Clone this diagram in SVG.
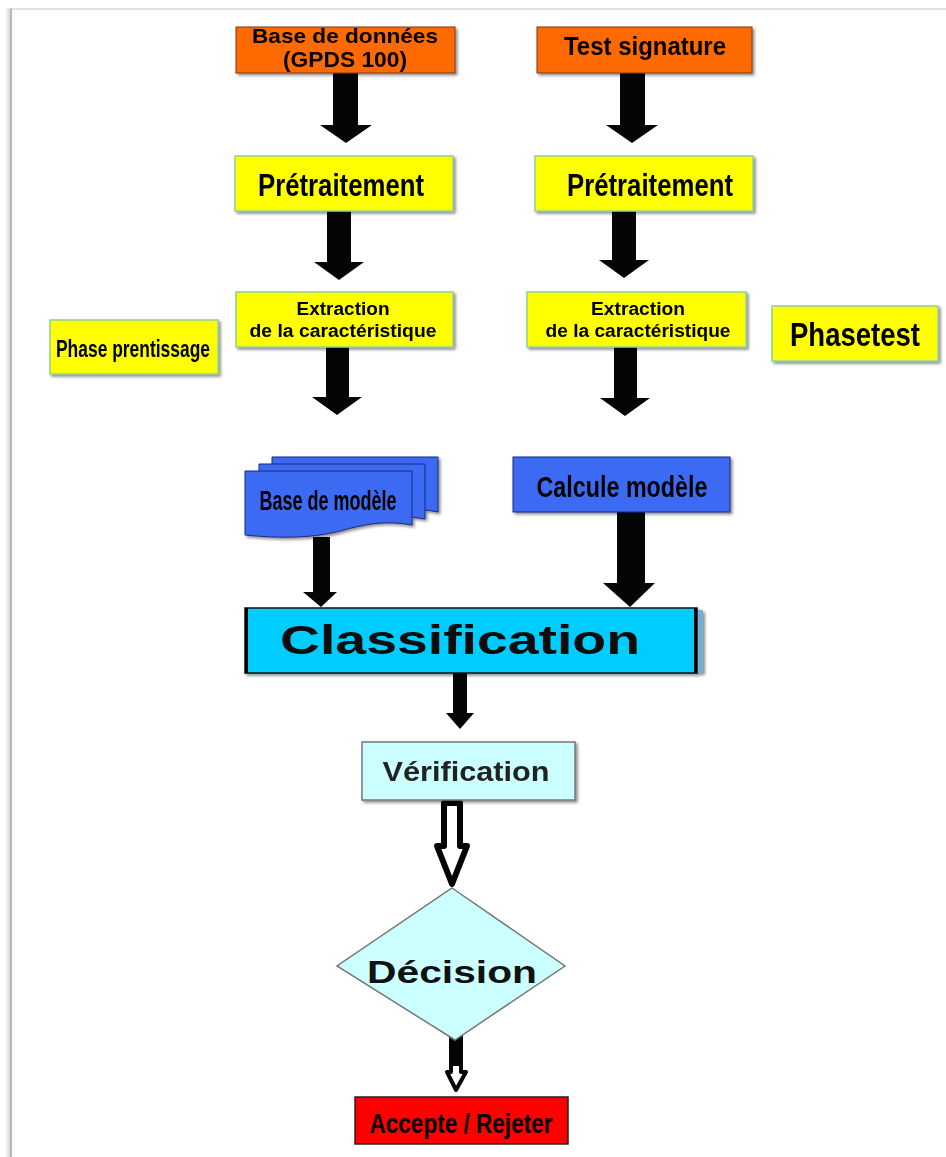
<svg xmlns="http://www.w3.org/2000/svg" width="946" height="1157" viewBox="0 0 946 1157">
  <defs>
    <filter id="soft" x="-20%" y="-20%" width="140%" height="140%">
      <feGaussianBlur stdDeviation="0.6"/>
    </filter>
    <filter id="shadow" x="-10%" y="-10%" width="130%" height="140%">
      <feGaussianBlur in="SourceAlpha" stdDeviation="1.5"/>
      <feOffset dx="1.5" dy="2"/>
      <feComponentTransfer><feFuncA type="linear" slope="0.45"/></feComponentTransfer>
      <feMerge><feMergeNode/><feMergeNode in="SourceGraphic"/></feMerge>
    </filter>
    <linearGradient id="frameShade" x1="0" x2="1" y1="0" y2="0">
      <stop offset="0" stop-color="#ffffff"/>
      <stop offset="1" stop-color="#c8c8c8"/>
    </linearGradient>
  </defs>
  <style>
    .orange { fill: #ff6a00; stroke: #7a3a10; stroke-width: 1; }
    .yellow { fill: #ffff00; stroke: #8fcf9a; stroke-width: 1.5; }
    .blue { fill: #3d6bf2; stroke: #1a2a80; stroke-width: 1; }
    .cyan { fill: #00ccff; stroke: #111; stroke-width: 1.5; }
    .pale { fill: #ccffff; stroke: #777; stroke-width: 1.5; }
    .red { fill: #ff0000; stroke: #222; stroke-width: 1.5; }
    .narrow { font-family: "Liberation Sans Narrow", "Liberation Sans", Arial, sans-serif; font-weight: bold; fill: #000; text-anchor: middle; }
    .wide { font-family: "Liberation Sans", Arial, sans-serif; font-weight: bold; fill: #111; text-anchor: middle; }
    .solid { fill: #050505; }
    .hollow { fill: #ffffff; stroke: #050505; stroke-width: 6; stroke-linejoin: round; }
  </style>

  <rect width="946" height="1157" fill="#ffffff"/>

  <!-- page frame -->
  <g id="frame" filter="url(#soft)">
    <rect x="5" y="8" width="7" height="1149" fill="url(#frameShade)"/>
    <line x1="11" y1="9" x2="946" y2="9" stroke="#d6d6d6" stroke-width="1.5"/>
    <line x1="11" y1="9" x2="11" y2="1157" stroke="#b8b8b8" stroke-width="2"/>
  </g>

  <!-- connectors -->
  <g id="connectors">
    <path class="solid" d="M333,73 H358 V125 H372 L346,143 L320,125 H333 Z"/>
    <path class="solid" d="M620,73 H645 V125 H658 L632,143 L606,125 H620 Z"/>
    <path class="solid" d="M327,211 H351 V262 H364 L339,280 L314,262 H327 Z"/>
    <path class="solid" d="M612,211 H636 V260 H649 L624,278 L599,260 H612 Z"/>
    <path class="solid" d="M326,347 H349 V397 H362 L337,415 L312,397 H326 Z"/>
    <path class="solid" d="M614,347 H637 V398 H650 L625,416 L600,398 H614 Z"/>
    <path class="solid" d="M313,537 H330 V592 H337 L321,607 L303,592 H313 Z"/>
    <path class="solid" d="M617,511 H645 V583 H655 L630,607 L603,583 H617 Z"/>
    <path class="solid" d="M453,673 H467 V713 H474 L460,729 L446,713 H453 Z"/>
    <path class="hollow" d="M444,803 H460 V846 H467 L452,884 L437,846 H444 Z"/>
    <path class="solid" d="M449,1032 H463 V1064 H449 Z"/>
    <path class="hollow" style="stroke-width:4" d="M451,1064 H461 V1072 H466 L456,1090 L447,1072 H451 Z"/>
  </g>

  <g id="base-donnees" filter="url(#shadow)">
    <rect class="orange" x="236" y="27" width="219" height="46"/>
    <text class="narrow" x="345" y="43" font-size="21" textLength="186" lengthAdjust="spacingAndGlyphs">Base de données</text>
    <text class="narrow" x="345" y="67" font-size="22" textLength="124" lengthAdjust="spacingAndGlyphs">(GPDS 100)</text>
  </g>

  <g id="test-signature" filter="url(#shadow)">
    <rect class="orange" x="537" y="27" width="215" height="46"/>
    <text class="narrow" x="645" y="55" font-size="26" textLength="162" lengthAdjust="spacingAndGlyphs">Test signature</text>
  </g>

  <g id="pretraitement-1" filter="url(#shadow)">
    <rect class="yellow" x="235" y="156" width="218" height="55"/>
    <text class="narrow" x="341" y="196" font-size="32" textLength="166" lengthAdjust="spacingAndGlyphs">Prétraitement</text>
  </g>

  <g id="pretraitement-2" filter="url(#shadow)">
    <rect class="yellow" x="535" y="156" width="218" height="55"/>
    <text class="narrow" x="650" y="196" font-size="32" textLength="166" lengthAdjust="spacingAndGlyphs">Prétraitement</text>
  </g>

  <g id="extraction-1" filter="url(#shadow)">
    <rect class="yellow" x="236" y="292" width="217" height="55"/>
    <text class="narrow" x="343" y="315" font-size="18" textLength="93" lengthAdjust="spacingAndGlyphs">Extraction</text>
    <text class="narrow" x="343" y="337" font-size="18" textLength="187" lengthAdjust="spacingAndGlyphs">de la caractéristique</text>
  </g>

  <g id="extraction-2" filter="url(#shadow)">
    <rect class="yellow" x="527" y="292" width="219" height="55"/>
    <text class="narrow" x="638" y="315" font-size="18" textLength="94" lengthAdjust="spacingAndGlyphs">Extraction</text>
    <text class="narrow" x="638" y="337" font-size="18" textLength="185" lengthAdjust="spacingAndGlyphs">de la caractéristique</text>
  </g>

  <g id="phase-apprentissage" filter="url(#shadow)">
    <rect class="yellow" x="50" y="320" width="168" height="54"/>
    <text class="narrow" x="133" y="357" font-size="23" textLength="154" lengthAdjust="spacingAndGlyphs">Phase prentissage</text>
  </g>

  <g id="phase-test" filter="url(#shadow)">
    <rect class="yellow" x="772" y="306" width="166" height="55"/>
    <text class="narrow" x="855" y="346" font-size="33" textLength="130" lengthAdjust="spacingAndGlyphs">Phasetest</text>
  </g>

  <g id="base-modele" filter="url(#shadow)">
    <path class="blue" d="M272,457 H438 V512 Q420,508 410,512 L272,512 Z"/>
    <path class="blue" d="M259,464 H425 V519 Q400,514 380,520 L259,520 Z"/>
    <path class="blue" d="M245,471 H412 V525 C385,520 365,524 340,531 C310,539 275,538 245,535 Z"/>
    <text class="narrow" x="328" y="510" font-size="27" textLength="137" lengthAdjust="spacingAndGlyphs">Base de modèle</text>
  </g>

  <g id="calcule-modele" filter="url(#shadow)">
    <rect class="blue" x="513" y="457" width="217" height="55"/>
    <text class="narrow" x="622" y="497" font-size="29" textLength="171" lengthAdjust="spacingAndGlyphs">Calcule modèle</text>
  </g>

  <g id="classification" filter="url(#shadow)">
    <rect x="697" y="610" width="6" height="63" fill="#6fb0d8"/>
    <rect class="cyan" x="245" y="608" width="452" height="65"/>
    <line x1="246.5" y1="608" x2="246.5" y2="673" stroke="#000" stroke-width="3"/>
    <line x1="695.5" y1="608" x2="695.5" y2="673" stroke="#000" stroke-width="3"/>
    <text class="wide" x="460" y="654" font-size="40" textLength="360" lengthAdjust="spacingAndGlyphs" style="fill:#0a0a0a">Classification</text>
  </g>

  <g id="verification" filter="url(#shadow)">
    <rect class="pale" x="362" y="742" width="213" height="58"/>
    <text class="wide" x="466" y="781" font-size="27" textLength="167" lengthAdjust="spacingAndGlyphs" style="fill:#222">Vérification</text>
  </g>

  <g id="decision">
    <path class="pale" d="M452,888 L565,966 L455,1040 L337,966 Z"/>
    <text class="wide" x="452" y="983" font-size="32" textLength="170" lengthAdjust="spacingAndGlyphs">Décision</text>
  </g>

  <g id="accepte-rejeter">
    <rect class="red" x="355" y="1097" width="213" height="47"/>
    <text class="narrow" x="461" y="1133" font-size="28" textLength="183" lengthAdjust="spacingAndGlyphs">Accepte / Rejeter</text>
  </g>
</svg>
